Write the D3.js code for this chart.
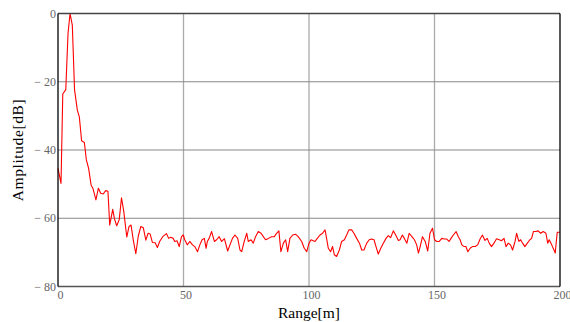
<!DOCTYPE html>
<html>
<head>
<meta charset="utf-8">
<script src="https://cdn.jsdelivr.net/npm/d3@7"></script>
<style>
  body { margin: 0; background: #fff; }
  svg { display: block; }
</style>
</head>
<body>
<div id="chart"></div>
<script>
const width = 570;
const height = 322;
const margin = {top: 13.5, right: 10, bottom: 35.5, left: 58};

// Range [m] and amplitude [dB]
const rangeM = [
  0, 1.2, 1.9, 3.1, 4.0, 4.8, 5.7, 6.6, 7.7, 8.5, 9.4, 10.5, 11.3, 12.2, 13.2, 13.9,
  15.1, 16.1, 17.0, 18.0, 19.0, 19.9, 20.6, 21.8, 22.5, 23.4, 24.4, 25.3, 26.2, 27.4,
  28.3, 29.1, 30.0, 31.0, 32.0, 33.0, 34.0, 35.0, 35.9, 36.7, 37.6, 38.7, 39.6, 40.5,
  41.7, 43.2, 44.1, 44.9, 45.9, 46.5, 47.4, 48.3, 49.2, 49.9, 50.5, 51.5, 52.5, 53.6,
  54.5, 55.6, 56.5, 57.4, 58.3, 59.0, 59.5, 60.2, 61.2, 62.3, 63.2, 64.2, 65.2, 66.3,
  67.6, 69.5, 70.5, 71.6, 72.5, 73.2, 74.2, 75.2, 75.8, 76.9, 77.8, 78.7, 79.8, 80.9,
  81.8, 82.7, 83.8, 85.1, 86.2, 87.1, 88.0, 88.8, 89.8, 90.7, 91.5, 92.4, 93.5, 94.7,
  95.7, 97.1, 98.1, 99.1, 100.0, 100.8, 101.7, 102.4, 103.3, 104.4, 105.4, 106.4,
  107.0, 107.7, 108.6, 109.4, 110.1, 111.0, 112.1, 113.0, 114.1, 115.0, 115.9, 117.0,
  117.9, 119.0, 120.1, 121.0, 121.9, 123.0, 124.0, 125.0, 125.9, 126.7, 127.6, 128.6,
  129.6, 130.7, 131.6, 132.5, 133.6, 134.6, 135.6, 136.3, 137.2, 138.0, 139.0, 139.9,
  141.0, 142.0, 142.9, 143.6, 144.3, 145.2, 146.3, 147.3, 148.2, 149.2, 150.0, 150.9,
  151.9, 152.9, 154.0, 154.9, 155.8, 156.6, 157.5, 158.6, 159.5, 160.2, 160.9, 161.8,
  162.5, 163.3, 164.2, 165.1, 166.2, 167.2, 168.2, 169.1, 170.1, 171.0, 171.8, 172.7,
  173.7, 174.7, 175.8, 176.7, 177.7, 178.5, 179.4, 180.3, 181.1, 182.1, 182.7, 183.6,
  184.3, 185.1, 186.0, 187.0, 188.0, 188.7, 189.4, 190.4, 191.3, 192.3, 193.3, 194.4,
  195.1, 195.7, 196.7, 197.6, 198.1, 198.9, 200.0
];
const amplitudeDb = [
  -45.4, -49.8, -23.6, -22.3, -5.8, 0, -3.4, -22.4, -28.3, -30.3, -37.3, -37.8, -42.9, -45.4, -50.3, -51.2,
  -54.6, -51.2, -52.7, -52.9, -51.9, -52.1, -62.0, -57.4, -60.2, -62.2, -60.4, -54.0, -58.0, -65.5,
  -62.4, -62.0, -66.4, -70.4, -65.2, -62.4, -62.8, -66.4, -64.4, -64.6, -67.1, -67.2, -68.6, -66.8,
  -65.4, -64.5, -65.9, -65.6, -65.9, -66.8, -66.6, -68.3, -65.4, -64.9, -66.3, -67.8, -66.8, -67.8,
  -68.3, -69.8, -67.8, -66.3, -65.9, -68.8, -66.8, -65.9, -63.9, -66.8, -66.3, -65.4, -66.8, -66.0,
  -69.6, -65.9, -64.9, -65.9, -69.3, -69.8, -66.8, -64.4, -66.8, -66.3, -67.3, -65.4, -63.9, -64.4,
  -65.4, -66.3, -65.9, -65.4, -65.4, -64.4, -63.7, -69.8, -67.3, -66.3, -69.8, -65.9, -64.9, -64.7,
  -65.4, -66.8, -68.8, -69.8, -67.3, -66.3, -66.6, -66.8, -65.9, -64.9, -64.4, -63.4,
  -65.9, -68.8, -69.8, -68.3, -70.7, -71.2, -69.3, -66.8, -66.3, -64.9, -63.4, -63.4,
  -64.4, -65.9, -67.3, -69.3, -69.3, -67.3, -66.3, -66.1, -66.3, -68.3, -70.5, -68.8,
  -67.3, -65.9, -65.1, -65.7, -63.7, -65.0, -66.5, -66.3, -64.9, -65.9, -67.3, -64.4,
  -65.4, -66.3, -67.8, -70.2, -68.3, -65.4, -66.8, -69.6, -64.4, -62.9, -66.3, -66.8,
  -66.8, -65.9, -66.1, -66.1, -66.8, -65.9, -64.9, -63.9, -65.4, -66.3, -67.8, -68.3,
  -68.3, -69.8, -68.8, -68.3, -68.3, -67.8, -66.0, -64.9, -66.5, -65.9, -67.3, -68.3,
  -67.3, -66.0, -66.3, -66.6, -65.9, -68.3, -67.3, -67.8, -69.3, -66.8, -64.4, -66.8,
  -66.3, -67.3, -68.3, -67.3, -66.3, -65.9, -63.9, -63.9, -63.7, -64.4, -63.9, -64.4,
  -67.3, -66.3, -67.8, -69.3, -70.2, -64.1, -64.1
];
const xTicks = [0, 50, 100, 150, 200];
const yTicks = [0, -20, -40, -60, -80];

const data = rangeM.map((r, i) => ({x: r, y: amplitudeDb[i]}));

const svg = d3.select("#chart").append("svg")
    .attr("width", width)
    .attr("height", height);

const x = d3.scaleLinear()
    .domain([0, 200])
    .range([margin.left, width - margin.right]);

const y = d3.scaleLinear()
    .domain([-80, 0])
    .range([height - margin.bottom, margin.top]);

const fmt = v => v < 0 ? "\u2212 " + Math.abs(v) : String(v);

// grid
svg.append("g")
  .selectAll("line")
  .data(xTicks.slice(1, -1)).enter()
    .append("line")
      .attr("x1", d => x(d)).attr("x2", d => x(d))
      .attr("y1", y(0)).attr("y2", y(-80))
      .attr("stroke", "#aaa")
      .attr("stroke-width", 1.3);

svg.append("g")
  .selectAll("line")
  .data(yTicks.slice(1, -1)).enter()
    .append("line")
      .attr("x1", x(0)).attr("x2", x(200))
      .attr("y1", d => y(d)).attr("y2", d => y(d))
      .attr("stroke", "#888")
      .attr("stroke-width", 1);

// trace
const line = d3.line()
    .x(d => x(d.x))
    .y(d => y(d.y));

svg.append("path")
    .datum(data)
    .attr("fill", "none")
    .attr("stroke", "#ff0000")
    .attr("stroke-width", 1.1)
    .attr("stroke-linejoin", "round")
    .attr("d", line);

// frame: top/bottom dark grey, left/right black
svg.append("line")
    .attr("x1", x(0)).attr("x2", x(200))
    .attr("y1", y(0)).attr("y2", y(0))
    .attr("stroke", "#444").attr("stroke-width", 1.5);
svg.append("line")
    .attr("x1", x(0)).attr("x2", x(200))
    .attr("y1", y(-80)).attr("y2", y(-80))
    .attr("stroke", "#555").attr("stroke-width", 1.5);
svg.append("line")
    .attr("x1", x(0)).attr("x2", x(0))
    .attr("y1", y(0)).attr("y2", y(-80))
    .attr("stroke", "#000").attr("stroke-width", 1.3);
svg.append("line")
    .attr("x1", x(200)).attr("x2", x(200))
    .attr("y1", y(0)).attr("y2", y(-80))
    .attr("stroke", "#000").attr("stroke-width", 1.3);

// tick labels
svg.append("g")
  .selectAll("text")
  .data(xTicks).enter()
    .append("text")
      .attr("x", d => x(d) + 2.5)
      .attr("y", y(-80) + 12)
      .attr("text-anchor", "middle")
      .attr("font-family", "'Liberation Serif', serif")
      .attr("font-size", 12)
      .attr("fill", "#666")
      .text(d => d);

svg.append("g")
  .selectAll("text")
  .data(yTicks).enter()
    .append("text")
      .attr("x", x(0) - 2)
      .attr("y", d => y(d) + 4)
      .attr("text-anchor", "end")
      .attr("font-family", "'Liberation Serif', serif")
      .attr("font-size", 12)
      .attr("fill", "#666")
      .text(fmt);

// axis titles
svg.append("text")
    .attr("x", (x(0) + x(200)) / 2)
    .attr("y", 318)
    .attr("text-anchor", "middle")
    .attr("font-family", "'Liberation Serif', serif")
    .attr("font-size", 15.5)
    .attr("fill", "#000")
    .text("Range[m]");

svg.append("text")
    .attr("transform", "translate(23," + (y(0) + y(-80)) / 2 + ") rotate(-90)")
    .attr("text-anchor", "middle")
    .attr("font-family", "'Liberation Serif', serif")
    .attr("font-size", 15.5)
    .attr("letter-spacing", 0.6)
    .attr("fill", "#000")
    .text("Amplitude[dB]");
</script>
</body>
</html>
